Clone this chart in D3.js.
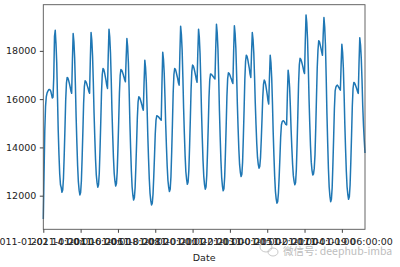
<!DOCTYPE html>
<html>
<head>
<meta charset="utf-8">
<script src="https://cdn.jsdelivr.net/npm/d3@7"></script>
<style>
  body { margin: 0; background: #fff; }
  text { font-family: "DejaVu Sans", sans-serif; }
</style>
</head>
<body>
<script>
// hourly load, one array per day (24 values each)
const day01 = [11030, 12900, 14700, 15700, 16100, 16250, 16320, 16380, 16400, 16390, 16330, 16200, 16050, 16080, 16900, 18600, 18850, 18300, 17500, 16100, 14700, 13700, 12900, 12450];
const day02 = [12340, 12140, 12235, 12710, 13660, 14760, 15950, 16660, 16900, 16870, 16770, 16640, 16500, 16340, 16240, 17600, 18720, 18390, 17720, 16580, 15240, 14170, 13230, 12570];
const day03 = [12230, 12030, 12130, 12600, 13540, 14630, 15810, 16520, 16760, 16730, 16660, 16550, 16450, 16320, 16240, 17630, 18760, 18440, 17800, 16710, 15430, 14400, 13500, 12860];
const day04 = [12540, 12350, 12450, 12940, 13920, 15060, 16290, 17020, 17270, 17230, 17110, 16940, 16780, 16570, 16445, 17800, 18900, 18580, 17930, 16820, 15520, 14480, 13570, 12920];
const day05 = [12600, 12400, 12500, 12980, 13950, 15060, 16260, 16990, 17230, 17200, 17130, 17030, 16920, 16800, 16720, 17700, 18510, 18180, 17510, 16370, 15030, 13960, 13020, 12360];
const day06 = [12020, 11820, 11910, 12330, 13190, 14170, 15240, 15890, 16100, 16070, 15990, 15880, 15770, 15630, 15545, 16680, 17615, 17315, 16715, 15695, 14495, 13535, 12695, 12095];
const day07 = [11795, 11615, 11690, 12060, 12800, 13650, 14570, 15130, 15310, 15300, 15280, 15240, 15200, 15160, 15130, 16680, 17945, 17660, 17080, 16100, 14940, 14020, 13210, 12630];
const day08 = [12340, 12170, 12270, 12780, 13800, 14970, 16250, 17020, 17270, 17240, 17130, 16990, 16860, 16680, 16580, 17920, 19020, 18690, 18040, 16920, 15610, 14570, 13650, 12990];
const day09 = [12670, 12470, 12570, 13060, 14050, 15190, 16420, 17160, 17410, 17370, 17270, 17130, 16980, 16810, 16700, 17910, 18900, 18570, 17905, 16780, 15450, 14390, 13460, 12800];
const day10 = [12460, 12270, 12360, 12840, 13790, 14890, 16080, 16800, 17040, 17030, 17000, 16960, 16920, 16870, 16840, 18090, 19100, 18760, 18070, 16890, 15510, 14410, 13440, 12750];
const day11 = [12400, 12200, 12290, 12780, 13760, 14890, 16110, 16850, 17090, 17070, 17000, 16910, 16830, 16720, 16650, 17960, 19040, 18720, 18100, 17035, 15785, 14785, 13910, 13285];
const day12 = [12970, 12790, 12890, 13390, 14400, 15550, 16810, 17570, 17820, 17770, 17640, 17450, 17270, 17040, 16900, 17920, 18760, 18480, 17920, 16960, 15835, 14935, 14150, 13585];
const day13 = [13300, 13140, 13210, 13570, 14300, 15150, 16060, 16610, 16790, 16740, 16590, 16390, 16190, 15940, 15800, 16910, 17820, 17510, 16900, 15860, 14630, 13650, 12790, 12180];
const day14 = [11870, 11690, 11750, 12100, 12780, 13570, 14420, 14930, 15060, 15100, 15100, 15060, 15000, 14950, 14930, 16180, 17200, 16960, 16490, 15680, 14730, 13970, 13300, 12830];
const day15 = [12590, 12450, 12550, 13070, 14120, 15330, 16640, 17420, 17690, 17650, 17560, 17440, 17310, 17150, 17060, 18400, 19490, 19160, 18500, 17370, 16040, 14980, 14050, 13390];
const day16 = [13050, 12860, 12900, 13130, 13690, 14800, 16080, 17300, 18030, 18420, 18380, 18250, 18100, 17950, 17820, 18680, 19380, 19000, 18240, 16940, 15410, 14190, 13120, 12360];
const day17 = [11980, 11750, 11850, 12330, 13300, 14410, 15610, 16340, 16500, 16560, 16580, 16540, 16480, 16420, 16370, 17410, 18270, 17940, 17300, 16210, 14930, 13900, 13000, 12360];
const day18 = [12040, 11850, 11950, 12430, 13400, 14510, 15720, 16450, 16690, 16670, 16600, 16510, 16420, 16310, 16240, 17500, 18540, 18250, 17700, 16800, 15700, 14900, 14300, 13770];

const load = [].concat(day01, day02, day03, day04, day05, day06, day07, day08, day09,
                       day10, day11, day12, day13, day14, day15, day16, day17, day18);

const xTickIndex = [0, 50, 100, 150, 200, 250, 300, 350, 400];
const xTickLabels = ["2011-01-02 14:00:00", "2011-01-04 16:00:00", "2011-01-06 18:00:00",
                     "2011-01-08 20:00:00", "2011-01-10 22:00:00", "2011-01-13 00:00:00",
                     "2011-01-15 02:00:00", "2011-01-17 04:00:00", "2011-01-19 06:00:00"];
const yTicks = [12000, 14000, 16000, 18000];

const width = 400;
const height = 267;
const margin = {top: 4.7, right: 35, bottom: 37.7, left: 43.3};

const svg = d3.select('body')
    .append('svg')
    .attr('width', width)
    .attr('height', height);

const x = d3.scaleLinear()
    .domain([0, load.length - 1])
    .range([margin.left, width - margin.right]);

// matplotlib style 5% padding
const [lo, hi] = d3.extent(load);
const pad = (hi - lo) * 0.05;
const y = d3.scaleLinear()
    .domain([lo - pad, hi + pad])
    .range([height - margin.bottom, margin.top]);

const line = d3.line()
    .x((d, i) => x(i))
    .y(d => y(d));

svg.append('path')
    .datum(load)
    .attr('d', line)
    .attr('fill', 'none')
    .attr('stroke', '#1f77b4')
    .attr('stroke-width', 1.5)
    .attr('stroke-linejoin', 'round');

// frame
svg.append('rect')
    .attr('x', margin.left)
    .attr('y', margin.top)
    .attr('width', width - margin.right - margin.left)
    .attr('height', height - margin.bottom - margin.top)
    .attr('fill', 'none')
    .attr('stroke', '#555')
    .attr('stroke-width', 0.9);

const xAxis = svg.append('g')
    .attr('transform', `translate(0,${height - margin.bottom})`)
    .call(d3.axisBottom(x)
        .tickValues(xTickIndex)
        .tickFormat((d, i) => xTickLabels[i])
        .tickSize(3.5)
        .tickPadding(5));

const yAxis = svg.append('g')
    .attr('transform', `translate(${margin.left},0)`)
    .call(d3.axisLeft(y)
        .tickValues(yTicks)
        .tickFormat(d3.format('d'))
        .tickSize(3.5)
        .tickPadding(3.5));

[xAxis, yAxis].forEach(g => {
    g.select('.domain').remove();
    g.selectAll('line').attr('stroke', '#444');
    g.selectAll('text')
        .attr('fill', '#222')
        .style('font-size', '9.5px')
        .style('font-family', '"DejaVu Sans", sans-serif');
});

svg.append('text')
    .attr('x', (margin.left + width - margin.right) / 2)
    .attr('y', 261)
    .attr('text-anchor', 'middle')
    .attr('fill', '#222')
    .style('font-size', '9.5px')
    .text('Date');

// watermark
const wm = svg.append('g').attr('opacity', 0.55);
wm.append('ellipse').attr('cx', 266).attr('cy', 247).attr('rx', 6).attr('ry', 5)
    .attr('fill', 'none').attr('stroke', '#888').attr('stroke-width', 0.8);
wm.append('ellipse').attr('cx', 273).attr('cy', 252).attr('rx', 5).attr('ry', 4)
    .attr('fill', 'none').attr('stroke', '#888').attr('stroke-width', 0.8);
wm.append('text')
    .attr('x', 283)
    .attr('y', 255)
    .attr('fill', '#888')
    .style('font-size', '10.5px')
    .style('font-family', '"Noto Sans CJK SC", "DejaVu Sans", sans-serif')
    .text('微信号: deephub-imba');
</script>
</body>
</html>
